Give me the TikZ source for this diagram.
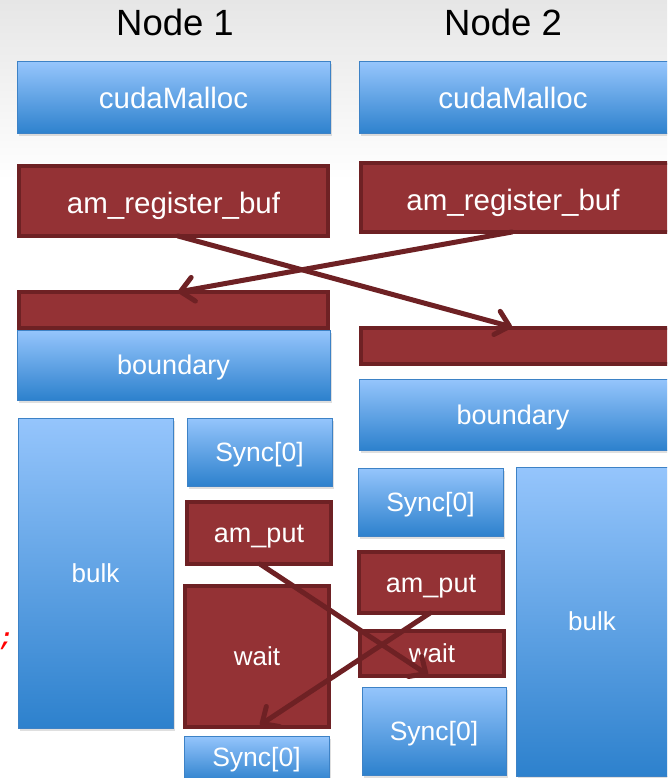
\documentclass[tikz,border=0pt]{standalone}
\usepackage{fontspec}
\setmainfont{Liberation Sans}
\setmonofont{Liberation Mono}
\usetikzlibrary{arrows.meta,shadows,calc}

\definecolor{bluetop}{HTML}{95C5FC}
\definecolor{bluebot}{HTML}{2D81CD}
\definecolor{blueedge}{HTML}{3D82C6}
\definecolor{redfill}{HTML}{943235}
\definecolor{rededge}{HTML}{6E2124}
\definecolor{bgtop}{HTML}{E6E6E6}

\tikzset{
  x=1pt, y=-1pt,
  box/.style={anchor=north west, inner sep=0pt, outer sep=0pt},
  bluebox/.style={box, draw=blueedge, line width=1pt,
    top color=bluetop, bottom color=bluebot,
    drop shadow={opacity=0.25, shadow xshift=1.5pt, shadow yshift=-2.5pt}},
  redbox/.style={box, draw=rededge, line width=4pt, fill=redfill},
  lbl/.style={text=white, inner sep=0pt, text depth=0pt,
    font=\fontsize{#1}{#1}\selectfont, text height=0.716*#1 pt},
  link/.style={draw=rededge, line width=5pt, line cap=round,
    -{Straight Barb[length=13pt,width=24pt,line width=5pt,round]}},
  title/.style={font=\fontsize{36.5}{40}\selectfont, text=black}
}

\begin{document}
\begin{tikzpicture}
  \useasboundingbox (0,0) rectangle (667,778);
  \clip (0,0) rectangle (667,778);
  % page background, greyish at the top
  \fill[white] (0,0) rectangle (667,778);
  \shade[top color=bgtop, bottom color=white] (0,0) rectangle (667,180);

  % column headings
  \node[title] (h1) at (175,22) {Node 1};
  \node[title] (h2) at (503,22) {Node 2};

  % ---- Node 1 ----
  \node[bluebox, minimum width=313pt, minimum height=72pt] (cm1) at (17,62) {};
  \node[redbox, minimum width=309pt, minimum height=70pt] (reg1) at (19,166) {};
  \node[bluebox, minimum width=313pt, minimum height=70pt] (bd1) at (17,330) {};
  \node[redbox, minimum width=309pt, minimum height=36pt] (bar1) at (19,292) {};
  \node[bluebox, minimum width=155pt, minimum height=310pt] (bulk1) at (18,418) {};
  \node[bluebox, minimum width=145pt, minimum height=68pt] (sa1) at (187,418) {};
  \node[redbox, minimum width=144pt, minimum height=62pt] (put1) at (187,502) {};
  \node[redbox, minimum width=144pt, minimum height=141pt] (wait1) at (185,586) {};
  \node[bluebox, minimum width=145pt, minimum height=46pt] (sb1) at (184,736) {};

  \node[lbl=29.5] at (cm1.center) {cudaMalloc};
  \node[lbl=29.5] at ([yshift=-2pt]reg1.center) {am\_register\_buf};
  \node[lbl=27] at (bd1.center) {boundary};
  \node[lbl=26] at (bulk1.center) {bulk};
  \node[lbl=26.5] at (sa1.center) {Sync[0]};
  \node[lbl=27] at (put1.center) {am\_put};
  \node[lbl=26] at (wait1.center) {wait};
  \node[lbl=26.5] at (256.5,757) {Sync[0]};

  % ---- Node 2 ----
  \node[bluebox, minimum width=320pt, minimum height=72pt] (cm2) at (359,62) {};
  \node[redbox, minimum width=320pt, minimum height=69pt] (reg2) at (361,163) {};
  \node[redbox, minimum width=320pt, minimum height=36pt] (bar2) at (361,328) {};
  \node[bluebox, minimum width=320pt, minimum height=71pt] (bd2) at (359,379) {};
  \node[bluebox, minimum width=145pt, minimum height=68pt] (sa2) at (358,468) {};
  \node[redbox, minimum width=144pt, minimum height=61pt] (put2) at (359,552) {};
  \node[redbox, minimum width=144pt, minimum height=45pt] (wait2) at (360,631) {};
  \node[bluebox, minimum width=144pt, minimum height=88pt] (sb2) at (362,687) {};
  \node[bluebox, minimum width=160pt, minimum height=309pt] (bulk2) at (516,467) {};

  \node[lbl=29.5] at (513,98) {cudaMalloc};
  \node[lbl=29.5] at (513,199.5) {am\_register\_buf};
  \node[lbl=27] at (513,415) {boundary};
  \node[lbl=26.5] at (sa2.center) {Sync[0]};
  \node[lbl=27] at (put2.center) {am\_put};
  \node[lbl=26] at (wait2.center) {wait};
  \node[lbl=26.5] at (sb2.center) {Sync[0]};
  \node[lbl=26] at (592,621.5) {bulk};

  % stray code fragment at the left edge
  \node[text=red, inner sep=0pt,
        font=\ttfamily\bfseries\itshape\fontsize{24}{24}\selectfont] (semi) at (6,641) {;};

  % buffer registration exchange
  \draw[link] ([xshift=4.5pt]reg1.south) -- ([xshift=-9pt,yshift=1pt]bar2.north);
  \draw[link] ([xshift=-9pt]reg2.south) -- ([xshift=4.5pt]bar1.north);

  % put / wait exchange
  \draw[link] ([xshift=1pt]put1.south) -- ([xshift=-4pt,yshift=1pt]wait2.south);
  \draw[link] ([xshift=-1pt]put2.south) -- ([xshift=3pt,yshift=2pt]wait1.south);
\end{tikzpicture}
\end{document}
